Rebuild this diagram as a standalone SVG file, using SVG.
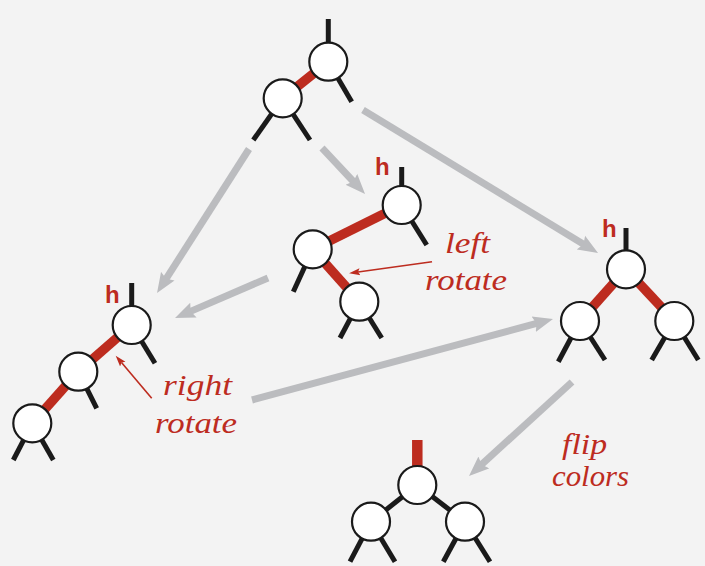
<svg xmlns="http://www.w3.org/2000/svg" width="705" height="566" viewBox="0 0 705 566">
<defs>
<style>
.bg{fill:#f3f3f3}
.node{fill:#fff;stroke:#1a1a1a;stroke-width:2.2}
.stub{stroke:#1a1a1a;stroke-width:5;fill:none}
.red{stroke:#bd2c1f;stroke-width:9.5;fill:none}
.blk{stroke:#1a1a1a;stroke-width:5;fill:none}
.gray{stroke:#bbbcbf;stroke-width:7;fill:none;marker-end:url(#gh)}
.rarrow{stroke:#bd2c1f;stroke-width:1.6;fill:none;marker-end:url(#rh)}
.h{font-family:"Liberation Sans",Arial,sans-serif;font-weight:bold;font-size:24px;fill:#bd2c1f}
.lab{font-family:"Liberation Serif","Times New Roman",serif;font-style:italic;font-size:29px;fill:#bd2c1f}
</style>
<marker id="gh" markerUnits="userSpaceOnUse" markerWidth="22" markerHeight="18" viewBox="0 -9 22 18" refX="5" refY="0" orient="auto">
<path d="M0,-8 L20,0 L0,8 L3,0 z" fill="#bbbcbf"/>
</marker>
<marker id="rh" markerUnits="userSpaceOnUse" markerWidth="12" markerHeight="10" viewBox="0 -5 12 10" refX="2" refY="0" orient="auto">
<path d="M0,-3.5 L11,0 L0,3.5 L2,0 z" fill="#bd2c1f"/>
</marker>
</defs>
<rect class="bg" x="0" y="0" width="705" height="566"/>

<g id="connectors">
<line class="gray" x1="249" y1="149" x2="165.1" y2="280.4"/>
<line class="gray" x1="322" y1="148" x2="354.8" y2="183"/>
<line class="gray" x1="363" y1="110" x2="585.2" y2="245.2"/>
<line class="gray" x1="268" y1="278" x2="188.8" y2="312.1"/>
<line class="gray" x1="252" y1="400" x2="538.5" y2="322.9"/>
<line class="gray" x1="572" y1="382" x2="480.1" y2="465.9"/>
<line class="rarrow" x1="432" y1="261.7" x2="358" y2="272"/>
<line class="rarrow" x1="151.7" y1="398.3" x2="121.5" y2="362.6"/>
</g>

<g id="tree-top">
<line class="stub" x1="328.3" y1="19" x2="328.3" y2="50"/>
<line class="stub" x1="328.3" y1="61.7" x2="351.7" y2="101.7"/>
<line class="red" x1="328.3" y1="61.7" x2="282.7" y2="98.3"/>
<line class="stub" x1="282.7" y1="98.3" x2="253.3" y2="140"/>
<line class="stub" x1="282.7" y1="98.3" x2="310" y2="140"/>
<circle class="node" cx="328.3" cy="61.7" r="19"/>
<circle class="node" cx="282.7" cy="98.3" r="19"/>
</g>

<g id="tree-left-rotate">
<text class="h" x="375" y="175">h</text>
<line class="stub" x1="401.7" y1="167" x2="401.7" y2="195"/>
<line class="stub" x1="401.7" y1="205" x2="426.7" y2="245"/>
<line class="red" x1="401.7" y1="205" x2="312.7" y2="249.3"/>
<line class="red" x1="312.7" y1="249.3" x2="359.3" y2="301.7"/>
<line class="stub" x1="312.7" y1="249.3" x2="293.3" y2="291.7"/>
<line class="stub" x1="359.3" y1="301.7" x2="340" y2="338"/>
<line class="stub" x1="359.3" y1="301.7" x2="381.7" y2="338"/>
<circle class="node" cx="401.7" cy="205" r="19"/>
<circle class="node" cx="312.7" cy="249.3" r="19"/>
<circle class="node" cx="359.3" cy="301.7" r="19"/>
<text class="lab" x="445" y="253" textLength="45" lengthAdjust="spacingAndGlyphs">left</text>
<text class="lab" x="425" y="290" textLength="82" lengthAdjust="spacingAndGlyphs">rotate</text>
</g>

<g id="tree-right">
<text class="h" x="602" y="237">h</text>
<line class="stub" x1="626" y1="228" x2="626" y2="255"/>
<line class="red" x1="626" y1="269.3" x2="580" y2="321"/>
<line class="red" x1="626" y1="269.3" x2="674.3" y2="321"/>
<line class="stub" x1="580" y1="321" x2="558.3" y2="361.7"/>
<line class="stub" x1="580" y1="321" x2="605" y2="360"/>
<line class="stub" x1="674.3" y1="321" x2="651.7" y2="360"/>
<line class="stub" x1="674.3" y1="321" x2="698.3" y2="360"/>
<circle class="node" cx="626" cy="269.3" r="19"/>
<circle class="node" cx="580" cy="321" r="19"/>
<circle class="node" cx="674.3" cy="321" r="19"/>
</g>

<g id="tree-left">
<text class="h" x="105" y="303">h</text>
<line class="stub" x1="131.7" y1="283" x2="131.7" y2="315"/>
<line class="stub" x1="131.7" y1="325" x2="155" y2="363.3"/>
<line class="red" x1="131.7" y1="325" x2="78.3" y2="371.7"/>
<line class="red" x1="78.3" y1="371.7" x2="32.3" y2="423.3"/>
<line class="stub" x1="78.3" y1="371.7" x2="96.7" y2="408.3"/>
<line class="stub" x1="32.3" y1="423.3" x2="13.3" y2="460"/>
<line class="stub" x1="32.3" y1="423.3" x2="53.3" y2="460"/>
<circle class="node" cx="131.7" cy="325" r="19"/>
<circle class="node" cx="78.3" cy="371.7" r="19"/>
<circle class="node" cx="32.3" cy="423.3" r="19"/>
<text class="lab" x="163" y="395" textLength="69" lengthAdjust="spacingAndGlyphs">right</text>
<text class="lab" x="155" y="433" textLength="82" lengthAdjust="spacingAndGlyphs">rotate</text>
</g>

<g id="tree-bottom">
<line class="red" x1="417.3" y1="440" x2="417.3" y2="475" style="stroke-width:10.5"/>
<line class="blk" x1="417.3" y1="485" x2="371" y2="521.7"/>
<line class="blk" x1="417.3" y1="485" x2="465" y2="521.7"/>
<line class="stub" x1="371" y1="521.7" x2="350" y2="561.7"/>
<line class="stub" x1="371" y1="521.7" x2="395" y2="561.7"/>
<line class="stub" x1="465" y1="521.7" x2="443.3" y2="561.7"/>
<line class="stub" x1="465" y1="521.7" x2="490" y2="561.7"/>
<circle class="node" cx="417.3" cy="485" r="19"/>
<circle class="node" cx="371" cy="521.7" r="19"/>
<circle class="node" cx="465" cy="521.7" r="19"/>
<text class="lab" x="562" y="454" textLength="45" lengthAdjust="spacingAndGlyphs">flip</text>
<text class="lab" x="552" y="486" textLength="77" lengthAdjust="spacingAndGlyphs">colors</text>
</g>
</svg>
